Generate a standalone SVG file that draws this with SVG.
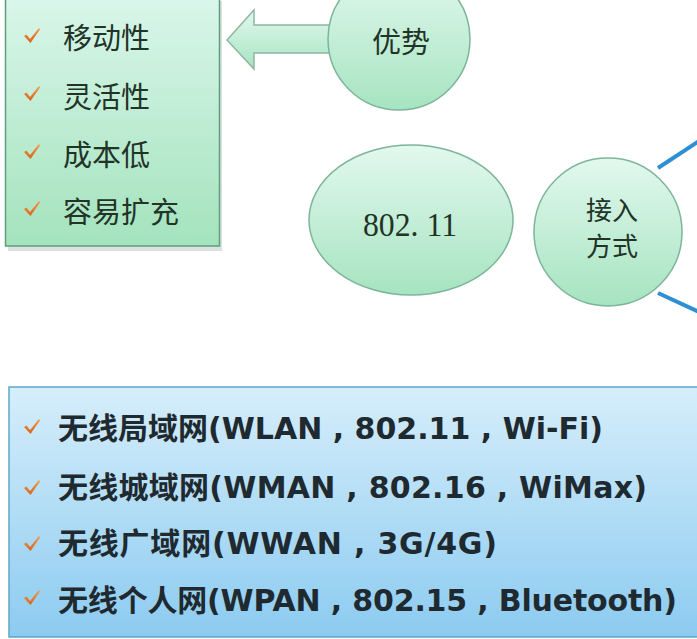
<svg xmlns="http://www.w3.org/2000/svg" width="697" height="639" viewBox="0 0 697 639">
<defs>
<linearGradient id="gGreen" x1="0" y1="0" x2="0" y2="1">
<stop offset="0" stop-color="#e2f8ee"/>
<stop offset="1" stop-color="#a6e4c0"/>
</linearGradient>
<linearGradient id="gBox" x1="0" y1="0" x2="0" y2="1">
<stop offset="0" stop-color="#d9f6ea"/>
<stop offset="1" stop-color="#a4e3bd"/>
</linearGradient>
<linearGradient id="gBlue" x1="0" y1="0" x2="0" y2="1">
<stop offset="0" stop-color="#d6eefb"/>
<stop offset="1" stop-color="#8ccbf0"/>
</linearGradient>
<linearGradient id="gCheck" x1="0" y1="0" x2="0" y2="1">
<stop offset="0" stop-color="#f39a4c"/>
<stop offset="1" stop-color="#d8641c"/>
</linearGradient>
<path id="chk" d="M0,8 L2.5,6.5 L6,11 L15,0 L16,1.5 L6.5,15 Z"/>
</defs>
<style>
.node{fill:url(#gGreen);stroke:#7db59a;stroke-width:1.5}
.cjk{font-family:"Noto Sans CJK SC","Noto Sans",sans-serif;fill:#223328}
.lbl{font-size:29px;text-anchor:middle}
.item{font-size:29px}
.blue{font-family:"Noto Sans CJK SC","Noto Sans",sans-serif;font-weight:bold;font-size:30px;fill:#1f2a30}
.lat{font-family:"DejaVu Sans","Noto Sans",sans-serif;font-weight:bold}
.chk{fill:url(#gCheck)}
.conn{stroke:#2f8fd4;stroke-width:4;fill:none}
</style>
<rect width="697" height="639" fill="#ffffff"/>

<g id="advantages-box">
<rect x="8" y="1" width="214" height="250" fill="#9aa" opacity="0.35"/>
<rect x="5.5" y="-2" width="214" height="248" fill="url(#gBox)" stroke="#5d9f7c" stroke-width="1.5"/>
<use href="#chk" class="chk" x="24" y="28"/>
<text class="cjk item" x="63" y="49">移动性</text>
<use href="#chk" class="chk" x="24" y="86"/>
<text class="cjk item" x="63" y="108">灵活性</text>
<use href="#chk" class="chk" x="24" y="144"/>
<text class="cjk item" x="63" y="166">成本低</text>
<use href="#chk" class="chk" x="24" y="201"/>
<text class="cjk item" x="63" y="223">容易扩充</text>
</g>

<g id="connectors">
<path d="M332,25 L254,25 L254,10 L227,40 L254,69 L254,53 L332,53 Z" fill="url(#gGreen)" stroke="#8fb7a3" stroke-width="1.5"/>
<line class="conn" x1="658" y1="168" x2="699" y2="141"/>
<line class="conn" x1="658" y1="293" x2="699" y2="312"/>
</g>

<g id="node-youshi">
<circle class="node" cx="399" cy="39" r="71"/>
<text class="cjk lbl" x="401" y="53">优势</text>
</g>

<g id="node-80211">
<ellipse class="node" cx="411" cy="220" rx="102" ry="75"/>
<text x="410" y="236" font-family="Liberation Serif,serif" font-size="34" text-anchor="middle" fill="#223328" textLength="94" lengthAdjust="spacingAndGlyphs">802. 11</text>
</g>

<g id="node-jieru">
<circle class="node" cx="608" cy="232" r="74"/>
<text class="cjk lbl" x="612" y="220" style="font-size:26px">接入</text>
<text class="cjk lbl" x="612" y="256" style="font-size:26px">方式</text>
</g>

<g id="types-box">
<rect x="9" y="387" width="700" height="250" fill="url(#gBlue)" stroke="#5fa6c6" stroke-width="1.5"/>
<use href="#chk" class="chk" x="24" y="419"/>
<text class="blue" x="58" y="439" textLength="545" lengthAdjust="spacing">无线局域网<tspan class="lat">(WLAN , 802.11 , Wi-Fi)</tspan></text>
<use href="#chk" class="chk" x="24" y="480"/>
<text class="blue" x="58" y="498" textLength="589" lengthAdjust="spacing">无线城域网<tspan class="lat">(WMAN , 802.16 , WiMax)</tspan></text>
<use href="#chk" class="chk" x="24" y="536"/>
<text class="blue" x="58" y="554" textLength="439" lengthAdjust="spacing">无线广域网<tspan class="lat">(WWAN , 3G/4G)</tspan></text>
<use href="#chk" class="chk" x="24" y="590"/>
<text class="blue" x="58" y="611" textLength="619" lengthAdjust="spacing">无线个人网<tspan class="lat">(WPAN , 802.15 , Bluetooth)</tspan></text>
</g>
</svg>
